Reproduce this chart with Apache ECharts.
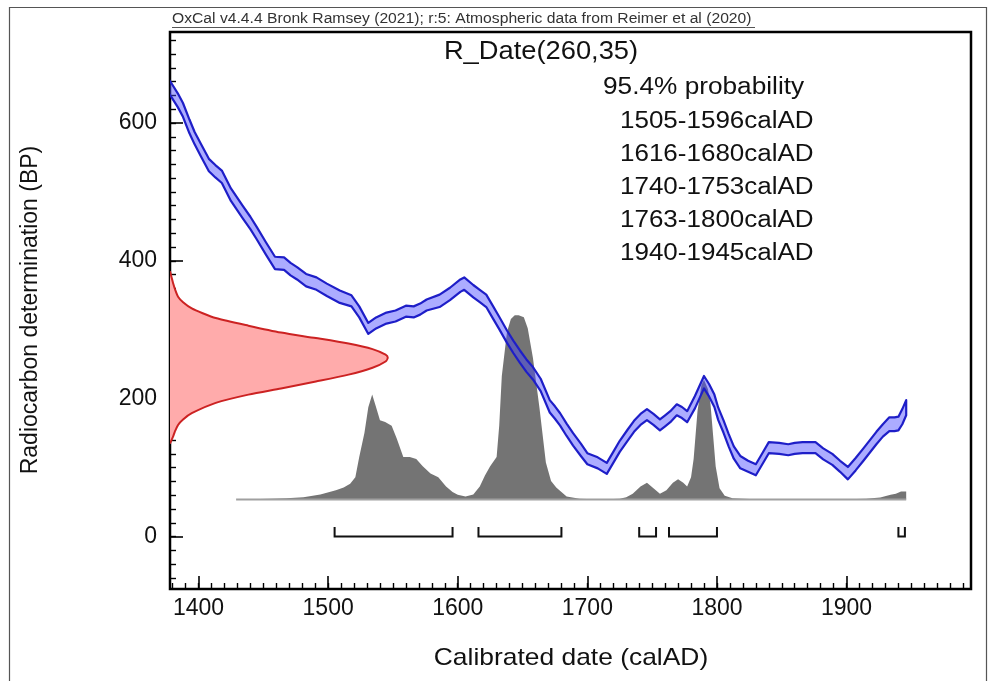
<!DOCTYPE html>
<html>
<head>
<meta charset="utf-8">
<script src="https://cdn.jsdelivr.net/npm/echarts@6/dist/echarts.min.js"></script>
<style>html,body{margin:0;padding:0;background:#fff}#c{width:992px;height:681px}</style>
</head>
<body>
<div id="c"></div>
<script>
// ---------- data ----------
const headerText = 'OxCal v4.4.4 Bronk Ramsey (2021); r:5: Atmospheric data from Reimer et al (2020)';
const rDateLabel = 'R_Date(260,35)';
const probLabel = '95.4% probability';
const xAxisName = 'Calibrated date (calAD)';
const yAxisName = 'Radiocarbon determination (BP)';

const xMajorTicks = [1400, 1500, 1600, 1700, 1800, 1900];
const yMajorTicks = [0, 200, 400, 600];

// calibration curve (IntCal20, mean +/- 1 sigma, BP)
const curveYears = [1372,1379,1384,1388,1393,1397,1402,1408,1413,1418,1425,1434,1440,1445,1452,1459,1466,1471,1476,1483,1491,1499,1509,1518,1524,1531,1537,1545,1552,1560,1566,1571,1576,1586,1594,1602,1605,1612,1617,1622,1627,1632,1638,1643,1648,1653,1658,1664,1671,1675,1679,1684,1689,1695,1700,1708,1715,1720,1725,1731,1736,1741,1746,1751,1756,1760,1764,1769,1773,1777,1783,1790,1794,1798,1801,1805,1809,1813,1818,1824,1830,1835,1840,1848,1855,1860,1866,1870,1876,1882,1889,1895,1901,1907,1913,1918,1923,1928,1933,1937,1940,1943,1946];
const curveMean = [665,648,633,619,595,578,560,539,530,522,496,471,455,440,418,397,396,388,382,372,367,358,348,342,326,302,310,317,320,327,326,330,336,342,352,364,367,356,349,342,326,310,290,275,261,248,237,220,189,180,170,155,141,126,113,107,99,115,131,147,160,170,177,170,162,168,174,184,180,174,195,224,212,197,178,160,140,122,108,102,97,113,129,128,126,128,129,129,129,120,112,102,92,105,119,131,143,154,163,163,164,174,187];
const curveSigma = [10,10,10,10,10,9,9,9,9,9, 9,9,9,9,9,9,9,9,9,9, 9,9,9,8,8,8,8,8,8,8, 8,8,8,9,9,9,9,9,9,9, 9,9,9,9,9,9,9,9,9,9, 9,9,9,9,8,8,8,8,8,8, 8,8,8,8,8,8,8,8,8,8, 9,9,9,9,9,9,9,9,9,8, 8,8,8,8,8,8,8,8,8,8, 8,8,9,9,9,9,9,9,10,10, 10,11,11];

// calibrated probability distribution (relative)
const probYears = [1429,1440,1455,1468,1481,1494,1506,1512,1517,1521,1524,1528,1531,1534,1537,1540,1544,1549,1553,1558,1563,1568,1573,1579,1585,1591,1596,1600,1606,1612,1617,1621,1625,1630,1632,1634,1638,1641,1644,1647,1651,1654,1658,1663,1668,1672,1676,1684,1694,1710,1725,1730,1735,1741,1746,1751,1756,1761,1766,1770,1774,1777,1780,1782,1785,1788,1790,1793,1795,1797,1799,1802,1806,1812,1825,1850,1900,1915,1926,1934,1938,1942,1946];
const probValues = [0,0.001,0.003,0.006,0.012,0.027,0.05,0.065,0.085,0.12,0.23,0.36,0.5,0.57,0.5,0.43,0.42,0.40,0.33,0.23,0.23,0.22,0.18,0.14,0.12,0.07,0.04,0.025,0.016,0.027,0.07,0.13,0.18,0.23,0.4,0.67,0.91,0.98,1.0,1.0,0.99,0.93,0.77,0.5,0.2,0.1,0.065,0.016,0.003,0,0.003,0.012,0.03,0.07,0.09,0.06,0.03,0.05,0.09,0.11,0.09,0.07,0.12,0.22,0.48,0.62,0.65,0.6,0.52,0.35,0.18,0.06,0.02,0.006,0.002,0.001,0.001,0.003,0.01,0.025,0.03,0.043,0.043];

// radiocarbon measurement distribution R_Date(260,35) (relative)
const rdateBP = [385,375,368,358,348,340,331,324,317,306,296,288,280,272,264,260,254,245,235,225,215,206,194,179,170,162,152,145,135];
const rdateProb = [0,0.008,0.014,0.024,0.037,0.06,0.1,0.15,0.21,0.36,0.51,0.67,0.82,0.93,0.99,1,0.99,0.93,0.82,0.67,0.51,0.36,0.21,0.1,0.06,0.037,0.022,0.014,0];

// 95.4% ranges
const rangeStart = [1505, 1616, 1740, 1763, 1940];
const rangeEnd   = [1596, 1680, 1753, 1800, 1945];

// ---------- layout (not data) ----------
const X_MIN = 1378, X_MAX = 1996, Y_MIN = -76, Y_MAX = 732;
const PROB_BASE = 54, PROB_HEIGHT = 267;   // BP units
const RDATE_WIDTH = 168;                    // years
const BRACKET_H = 14;                       // BP units
const FONT = '"Liberation Sans", Arial, sans-serif';

function seq(a, b, s) { const r = []; for (let v = a; v <= b; v += s) r.push(v); return r; }
const xMinorTicks = seq(1380, 1990, 10);
const yMinorTicks = seq(-60, 720, 20);

const chart = echarts.init(document.getElementById('c'), null, { renderer: 'canvas' });

function axisPair(dim) {
  const isX = dim === 'x';
  const major = isX ? xMajorTicks : yMajorTicks;
  const minor = isX ? xMinorTicks : yMinorTicks;
  const common = {
    type: 'value', min: isX ? X_MIN : Y_MIN, max: isX ? X_MAX : Y_MAX,
    position: isX ? 'bottom' : 'left',
    axisLine: { show: false, onZero: false }, splitLine: { show: false }
  };
  return [
    Object.assign({}, common, {
      axisTick: { show: true, inside: true, length: 13, customValues: major, lineStyle: { color: '#000', width: 1.6 } },
      axisLabel: { show: true, customValues: major, margin: isX ? 8 : 13, fontSize: 23, fontFamily: FONT, color: '#111',
                   formatter: v => String(v) }
    }),
    Object.assign({}, common, {
      axisTick: { show: true, inside: true, length: 6, customValues: minor, lineStyle: { color: '#000', width: 1.4 } },
      axisLabel: { show: false }
    })
  ];
}

function singleItemSeries(name, z, build) {
  return {
    type: 'custom', name, coordinateSystem: 'cartesian2d', xAxisIndex: 0, yAxisIndex: 0,
    clip: true, z, silent: true, data: [[X_MIN, 0]],
    renderItem: (params, api) => build(api)
  };
}

// gray calibrated distribution
const probSeries = singleItemSeries('calibrated', 2, api => {
  const top = probYears.map((y, i) => api.coord([y, PROB_BASE + probValues[i] * PROB_HEIGHT]));
  const b0 = api.coord([probYears[0], PROB_BASE]);
  const b1 = api.coord([probYears[probYears.length - 1], PROB_BASE]);
  return {
    type: 'group', children: [
      { type: 'polygon', shape: { points: [b0].concat(top, [b1]) }, style: { fill: '#747474', stroke: null } },
      { type: 'line', shape: { x1: b0[0], y1: b0[1], x2: b1[0], y2: b1[1] }, style: { stroke: '#a0a0a0', lineWidth: 2 } }
    ]
  };
});

// blue calibration band
const curveSeries = singleItemSeries('curve', 3, api => {
  const up = curveYears.map((y, i) => api.coord([y, curveMean[i] + curveSigma[i]]));
  const lo = curveYears.map((y, i) => api.coord([y, curveMean[i] - curveSigma[i]]));
  return {
    type: 'polygon', shape: { points: up.concat(lo.reverse()) },
    style: { fill: 'rgba(70,70,255,0.45)', stroke: '#1e1ec8', lineWidth: 2.2, lineJoin: 'round' }
  };
});

// red measurement distribution
const rdateSeries = singleItemSeries('rdate', 4, api => {
  const pts = rdateBP.map((b, i) => api.coord([X_MIN + rdateProb[i] * RDATE_WIDTH, b]));
  return {
    type: 'group', children: [
      { type: 'polygon', shape: { points: pts, smooth: 0.25 }, style: { fill: '#ffabab', stroke: null } },
      { type: 'polyline', shape: { points: pts, smooth: 0.25 }, style: { stroke: '#cc2222', lineWidth: 2, fill: null } }
    ]
  };
});

// range brackets
const bracketSeries = {
  type: 'custom', name: 'ranges', coordinateSystem: 'cartesian2d', clip: true, z: 5, silent: true,
  data: rangeStart.map((s, i) => [s, rangeEnd[i]]),
  renderItem: (params, api) => {
    const s = api.value(0), e = api.value(1);
    const pts = [[s, BRACKET_H], [s, 0], [e, 0], [e, BRACKET_H]].map(p => api.coord(p));
    return { type: 'polyline', shape: { points: pts }, style: { stroke: '#111', lineWidth: 2, fill: null } };
  }
};

const texts = [
  { type: 'rect', shape: { x: 9.5, y: 7.5, width: 977, height: 700 }, style: { fill: null, stroke: '#555', lineWidth: 1.2 }, silent: true },
  { type: 'text', x: 172, y: 19, scaleX: 1.12, style: { text: headerText, fontSize: 14, fontFamily: FONT, fill: '#333', align: 'left', verticalAlign: 'middle' } },
  { type: 'line', shape: { x1: 172, y1: 27.5, x2: 755, y2: 27.5 }, style: { stroke: '#555', lineWidth: 1 } },
  { type: 'text', x: 541, y: 52, scaleX: 1.05, style: { text: rDateLabel, fontSize: 26, fontFamily: FONT, fill: '#111', align: 'center', verticalAlign: 'middle' } },
  { type: 'text', x: 603, y: 88, scaleX: 1.14, style: { text: probLabel, fontSize: 23, fontFamily: FONT, fill: '#111', align: 'left', verticalAlign: 'middle' } },
  { type: 'text', x: 571, y: 658, scaleX: 1.1, style: { text: xAxisName, fontSize: 24, fontFamily: FONT, fill: '#111', align: 'center', verticalAlign: 'middle' } },
  { type: 'text', x: 31, y: 310, rotation: Math.PI / 2, style: { text: yAxisName, fontSize: 23, fontFamily: FONT, fill: '#111', align: 'center', verticalAlign: 'middle' } }
];
rangeStart.forEach((s, i) => {
  texts.push({ type: 'text', x: 620, y: 122 + i * 33, scaleX: 1.13,
    style: { text: s + '-' + rangeEnd[i] + 'calAD', fontSize: 23, fontFamily: FONT, fill: '#111', align: 'left', verticalAlign: 'middle' } });
});

const xs = axisPair('x'), ys = axisPair('y');
chart.setOption({
  animation: false,
  backgroundColor: '#fff',
  grid: { left: 170, right: 21, top: 32, bottom: 92, show: true, borderColor: '#000', borderWidth: 2.5 },
  xAxis: xs,
  yAxis: ys,
  graphic: texts,
  series: [probSeries, curveSeries, rdateSeries, bracketSeries]
});
</script>
</body>
</html>
